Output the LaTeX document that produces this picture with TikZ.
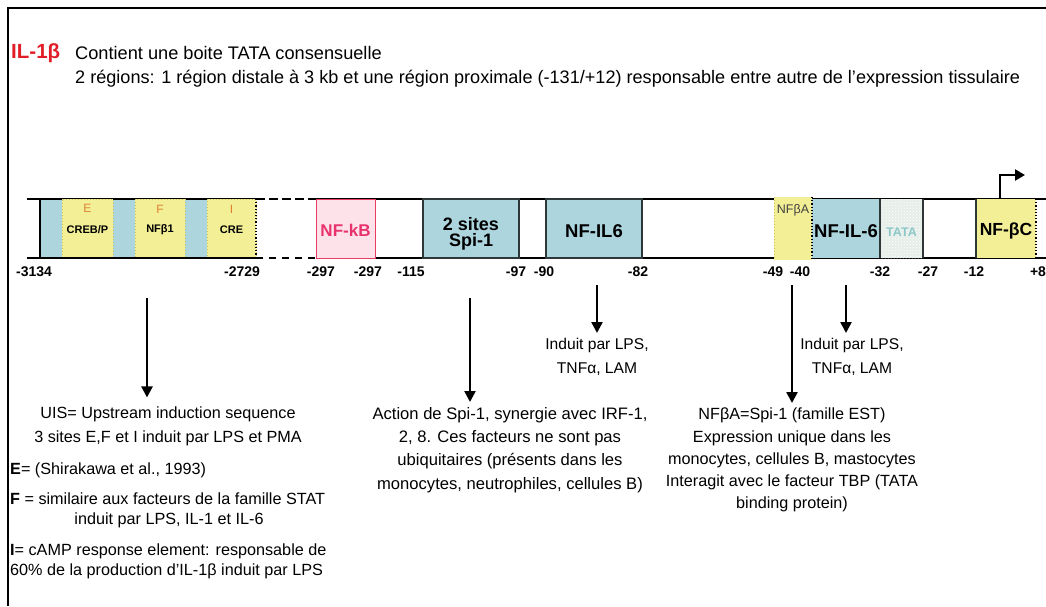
\documentclass[tikz,border=0pt]{standalone}
\usepackage{fontspec}
\setmainfont{Liberation Sans}
\usetikzlibrary{arrows.meta,patterns}
\definecolor{cblue}{RGB}{172,213,222}
\definecolor{cyel}{RGB}{243,239,150}
\definecolor{cydot}{RGB}{205,195,90}
\definecolor{cpink}{RGB}{253,226,233}
\definecolor{cpinkd}{RGB}{232,60,100}
\definecolor{cnfkb}{RGB}{232,50,110}
\definecolor{corange}{RGB}{222,130,50}
\definecolor{ctata}{RGB}{230,238,233}
\definecolor{ctatat}{RGB}{140,200,200}
\definecolor{cred}{RGB}{225,30,40}
\definecolor{cdark}{RGB}{45,55,55}
\tikzset{
  seg/.style={minimum height=59pt, inner sep=0pt, outer sep=0pt},
  bluef/.style={seg, fill=cblue},
  yelf/.style={seg, fill=cyel, draw=cydot, dotted, line width=1pt},
  darkbox/.style={seg, fill=cblue, draw=cdark, line width=1.6pt},
  small/.style={font=\fontsize{11}{13}\selectfont\bfseries, inner sep=0pt},
  letter/.style={font=\fontsize{12}{14}\selectfont, text=corange, inner sep=0pt},
  big/.style={font=\fontsize{18.5}{15}\selectfont\bfseries, inner sep=0pt},
  num/.style={font=\fontsize{14}{16}\selectfont\bfseries, inner sep=0pt},
  txt/.style={font=\fontsize{16.2}{19}\selectfont, inner sep=0pt},
  arr/.style={line width=2.4pt, -{Triangle[length=11pt,width=11pt]}},
  barline/.style={line width=2pt},
}
\begin{document}
\begin{tikzpicture}[x=1pt,y=-1pt]
\useasboundingbox (0,0) rectangle (1046,606);
% frame
\coordinate (fbl) at (8,606); \coordinate (ftl) at (8,8); \coordinate (ftr) at (1046,8);
\draw[line width=2pt] (fbl) -- (ftl) -- (ftr);
% title
\node[anchor=west, font=\fontsize{20.5}{22}\selectfont\bfseries, text=cred, inner sep=0pt] (il) at (11,53) {IL-1β};
\node[anchor=west, font=\fontsize{18.2}{20}\selectfont, inner sep=0pt] (t1) at (75,53) {Contient une boite TATA consensuelle};
\node[anchor=west, font=\fontsize{18.1}{20}\selectfont, inner sep=0pt] (t2) at (75,79) {2 régions: 1 région distale à 3 kb et une région proximale (-131/+12) responsable entre autre de l’expression tissulaire};

% blue boxes of distal region
\node[bluef, minimum width=22pt] (b1) at (51,228.5) {};
\node[bluef, minimum width=22pt] (b2) at (124,228.5) {};
\node[bluef, minimum width=22pt] (b3) at (196,228.5) {};
% bar lines
\coordinate (d0t) at (27,199); \coordinate (d1t) at (256,199);
\coordinate (d0b) at (27,258); \coordinate (d1b) at (256,258);
\coordinate (p0t) at (316,199); \coordinate (p1t) at (1046,199);
\coordinate (p0b) at (316,258); \coordinate (p1b) at (1046,258);
\draw[barline] (d0t) -- (d1t);
\draw[barline] (40,199) -- (40,258);
\draw[barline, dash pattern=on 9pt off 4pt, line width=2.6pt] (d1t) -- (p0t);
\draw[barline, dash pattern=on 7pt off 6pt] (d1b) -- (p0b);
\draw[barline] (p0t) -- (p1t);
\draw[barline] (p0b) -- (p1b);
% yellow boxes
\node[yelf, minimum width=51pt] (e) at (87.5,228.5) {};
\node[yelf, minimum width=50pt] (f) at (160,228.5) {};
\node[yelf, minimum width=49pt] (i) at (231.5,228.5) {};
\draw[barline] (d0b) -- (d1b);
\draw[dotted, line width=1.2pt] (256,199) -- (256,258);
\node[small] at (87.5,230) {CREB/P};
\node[small] at (160,230) {NFβ1};
\node[small] at (231.5,230) {CRE};
\node[letter] (el) at (87.5,208) {E};
\node[letter] (fl) at (160,209) {F};
\node[letter] (il2) at (231.5,209) {I};

% proximal region
\node[seg, fill=cpink, draw=cpinkd, line width=1pt, minimum width=59pt] (nfkb) at (345.5,228.5) {};
\node[big, text=cnfkb, font=\fontsize{17}{18}\selectfont\bfseries] at (345.5,230) {NF-kB};
\node[darkbox, minimum width=96pt] (spi) at (471,228.5) {};
\node[big, align=center, font=\fontsize{18}{16.5}\selectfont\bfseries] at (471,234) {2 sites\\Spi-1};
\node[darkbox, minimum width=96pt] (nfil6) at (594,228.5) {};
\node[big] at (594,231) {NF-IL6};
\node[seg, fill=cblue, minimum width=68pt] (nfil6b) at (846,228.5) {};
\node[seg, fill=ctata, minimum width=43pt] (tata) at (901.5,228.5) {};
\fill[pattern=crosshatch dots, pattern color=white] (tata.south west) rectangle (tata.north east);
\draw[cdark, line width=1.6pt] (nfil6b.north east) -- (nfil6b.south east);
\draw[cdark, line width=1.6pt] (tata.north east) -- (tata.south east);
\node[seg, fill=cyel, minimum width=38pt, minimum height=63pt] (nfba) at (793,228.5) {};
\draw[dotted, cydot, line width=1pt] (nfba.north west) -- (nfba.south west);
\draw[dotted, line width=1.2pt] (nfba.north east) -- (nfba.south east);
\node[font=\fontsize{12.5}{14}\selectfont, inner sep=0pt, text=black!75] at (793,210) {NFβA};
\node[big] at (846,231) {NF-IL-6};
\node[font=\fontsize{12.5}{14}\selectfont\bfseries, text=ctatat, inner sep=0pt] at (901.5,232) {TATA};
\node[seg, fill=cyel, minimum width=60pt] (nfbc) at (1006,228.5) {};
\draw[cdark, line width=1.6pt] (nfbc.north west) -- (nfbc.south west);
\draw[dotted, line width=1.2pt] (nfbc.north east) -- (nfbc.south east);
\node[big, font=\fontsize{17.5}{15}\selectfont\bfseries] at (1006,231) {NF-βC};
% transcription start
\coordinate (tss) at (1000,199);
\draw[line width=2.2pt, -{Triangle[length=10pt,width=11pt]}] (tss) -- ++(0,-24) -- ++(25,0);

% positions
\node[num, anchor=west] at (16,272) {-3134};
\node[num] at (242,272) {-2729};
\node[num] at (321,272) {-297};
\node[num] at (368,272) {-297};
\node[num] at (411,272) {-115};
\node[num] at (516,272) {-97};
\node[num] at (544,272) {-90};
\node[num] at (638,272) {-82};
\node[num] at (773,272) {-49};
\node[num] at (800,272) {-40};
\node[num] at (880,272) {-32};
\node[num] at (928,272) {-27};
\node[num] at (974,272) {-12};
\node[num] at (1038,272) {+8};

% left text block
\node[txt, outer ysep=9pt] (uis) at (168,414) {UIS= Upstream induction sequence};
\node[txt] (sites) at (168,438) {3 sites E,F et I induit par LPS et PMA};
\node[txt, anchor=west] (eref) at (10,470) {\textbf{E}= (Shirakawa et al., 1993)};
\node[txt, anchor=west] (fdef) at (10,499) {\textbf{F} = similaire aux facteurs de la famille STAT};
\node[txt] (fdef2) at (169,520) {induit par LPS, IL-1 et IL-6};
\node[txt, anchor=west] (idef) at (10,551) {\textbf{I}= cAMP response element: responsable de};
\node[txt, anchor=west] (idef2) at (10,571) {60\% de la production d’IL-1β induit par LPS};

% middle text blocks
\node[txt, font=\fontsize{16.6}{23.3}\selectfont, align=center, anchor=north] (spitxt) at (510,407) {Action de Spi-1, synergie avec IRF-1,\\2, 8. Ces facteurs ne sont pas\\ubiquitaires (présents dans les\\monocytes, neutrophiles, cellules B)};
\node[txt, font=\fontsize{15.6}{24}\selectfont, align=center, anchor=north] (ind1) at (597,338) {Induit par LPS,\\TNFα, LAM};
\node[txt, font=\fontsize{15.6}{24}\selectfont, align=center, anchor=north] (ind2) at (852,338) {Induit par LPS,\\TNFα, LAM};
\node[txt, font=\fontsize{16.2}{22.2}\selectfont, align=center, anchor=north] (nfbatxt) at (792,408) {NFβA=Spi-1 (famille EST)\\Expression unique dans les\\monocytes, cellules B, mastocytes\\Interagit avec le facteur TBP (TATA\\binding protein)};

% arrows
\coordinate (a1) at (147,298);
\coordinate (a2) at (470,298);
\coordinate (a3) at (597,285);
\coordinate (a4) at (792,285);
\coordinate (a5) at (846,285);
\draw[arr] (a1) -- (a1 |- uis.north);
\draw[arr] (a2) -- ([yshift=5pt]a2 |- spitxt.north);
\draw[arr] (a3) -- ([yshift=5pt]a3 |- ind1.north);
\draw[arr] (a4) -- ([yshift=5pt]a4 |- nfbatxt.north);
\draw[arr] (a5) -- ([yshift=5pt]a5 |- ind2.north);
\end{tikzpicture}
\end{document}
